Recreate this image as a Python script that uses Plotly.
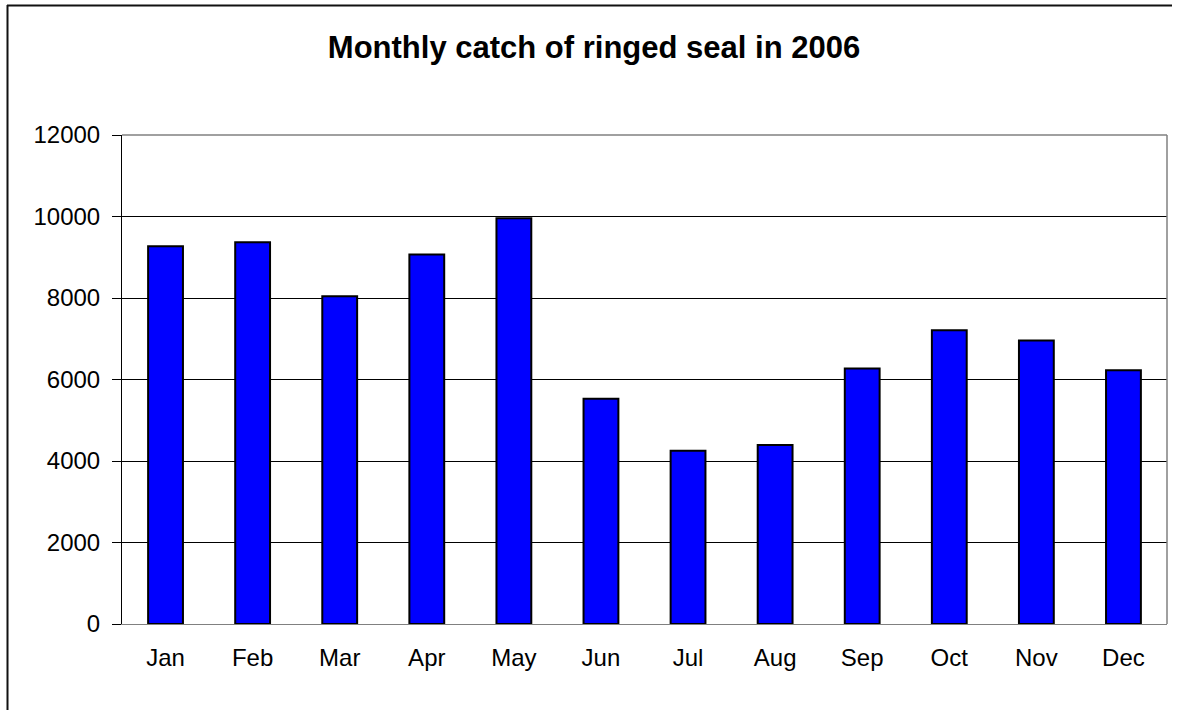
import plotly.graph_objects as go

months = ["Jan", "Feb", "Mar", "Apr", "May", "Jun", "Jul", "Aug", "Sep", "Oct", "Nov", "Dec"]
catch = [9270, 9370, 8040, 9070, 9960, 5530, 4250, 4390, 6270, 7210, 6960, 6230]
y_ticks = [0, 2000, 4000, 6000, 8000, 10000, 12000]

W, H = 1177, 710
L, R, T, B = 122, 10, 135, 86
pw, ph = W - L - R, H - T - B

def px(x):
    return (x - L) / pw

def py(y):
    return (H - B - y) / ph

fig = go.Figure(go.Bar(
    x=months, y=catch,
    marker=dict(color="#0000FF", line=dict(color="#000000", width=2)),
    width=0.4,
))

fig.update_layout(
    width=W, height=H,
    margin=dict(l=L, r=R, t=T, b=B, pad=0),
    paper_bgcolor="white", plot_bgcolor="white",
    font=dict(family="Liberation Sans, Arial, sans-serif", size=24, color="black"),
    title=dict(text="<b>Monthly catch of ringed seal in 2006</b>",
               font=dict(size=31, color="black"),
               x=594 / W, xanchor="center", xref="container",
               y=1 - 47 / H, yanchor="middle", yref="container"),
    showlegend=False,
    bargap=0.6,
)
fig.update_xaxes(
    type="category", showgrid=False, showline=True, linecolor="#808080", linewidth=1,
    ticks="", ticklabelstandoff=12, range=[-0.5, 11.5],
)
fig.update_yaxes(
    range=[0, 12000], tickvals=y_ticks, ticktext=[str(v) for v in y_ticks],
    showgrid=True, gridcolor="#000000", gridwidth=1, zeroline=False,
    showline=True, linecolor="#000000", linewidth=1,
    ticks="outside", ticklen=9, tickcolor="#000000", tickwidth=1,
    ticklabelstandoff=7,
)

shapes = [
    # plot area box (top/right gray)
    dict(type="line", xref="paper", yref="paper", x0=0, x1=1, y0=1, y1=1,
         line=dict(color="#808080", width=1.5), layer="above"),
    dict(type="line", xref="paper", yref="paper", x0=1, x1=1, y0=0, y1=1,
         line=dict(color="#808080", width=1.5), layer="above"),
    # outer chart frame
    dict(type="line", xref="paper", yref="paper", x0=px(7), x1=px(1172), y0=py(5.5), y1=py(5.5),
         line=dict(color="#111111", width=2)),
    dict(type="line", xref="paper", yref="paper", x0=px(7.5), x1=px(7.5), y0=py(5), y1=py(712),
         line=dict(color="#111111", width=2)),
]
fig.update_layout(shapes=shapes)

fig.write_html("out.html")
